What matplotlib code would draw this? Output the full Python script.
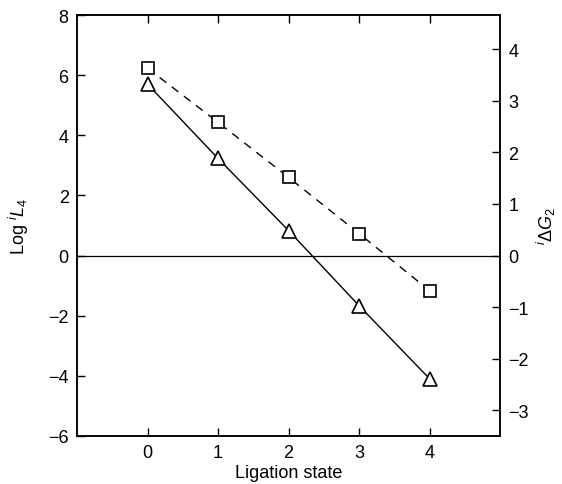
import matplotlib
matplotlib.use("Agg")
import matplotlib.pyplot as plt

# ligation state on x, Log iL4 on the left axis
states = [0, 1, 2, 3, 4]
log_L4_squares = [6.23, 4.43, 2.60, 0.73, -1.17]
log_L4_triangles = [5.70, 3.23, 0.83, -1.67, -4.10]

x_ticks = [0, 1, 2, 3, 4]
left_ticks = [-6, -4, -2, 0, 2, 4, 6, 8]
right_ticks = [-3, -2, -1, 0, 1, 2, 3, 4]
right_per_left = 0.583

plt.rcParams["font.family"] = ["Liberation Sans", "DejaVu Sans"]
plt.rcParams["mathtext.fontset"] = "custom"
plt.rcParams["mathtext.rm"] = "Liberation Sans"
plt.rcParams["mathtext.it"] = "Liberation Sans:italic"

fig = plt.figure(figsize=(5.62, 4.85), dpi=100)
ax = fig.add_axes([0.137, 0.099, 0.753, 0.868])

ax.axhline(0, color="black", lw=0.9)
ax.plot(states, log_L4_squares, color="black", ls=(0, (6, 5)), lw=1.0,
        marker="s", ms=9, mfc="white", mec="black", mew=1.2)
ax.plot(states, log_L4_triangles, color="black", ls="-", lw=1.0,
        marker="^", ms=10, mfc="white", mec="black", mew=1.2)

ax.set_xlim(-1, 5)
ax.set_ylim(-6, 8)
ax.set_xticks(x_ticks)
ax.set_yticks(left_ticks)
ax.tick_params(direction="in", length=6, width=1, labelsize=13,
               top=True, bottom=True, pad=6)
ax.set_xlabel("Ligation state", fontsize=13, labelpad=2)
ax.set_ylabel(r"Log $^{i}\mathit{L}_4$", fontsize=13, labelpad=12)

ax2 = ax.twinx()
ax2.set_ylim(-6 * right_per_left, 8 * right_per_left)
ax2.set_yticks(right_ticks)
ax2.tick_params(direction="in", length=6, width=1, labelsize=13, pad=6)
ax2.set_ylabel(r"$^{i}\Delta \mathit{G}_2$", fontsize=13, labelpad=4)

for a in (ax, ax2):
    for s in a.spines.values():
        s.set_linewidth(1.1)

fig.savefig("out.png", dpi=100)
